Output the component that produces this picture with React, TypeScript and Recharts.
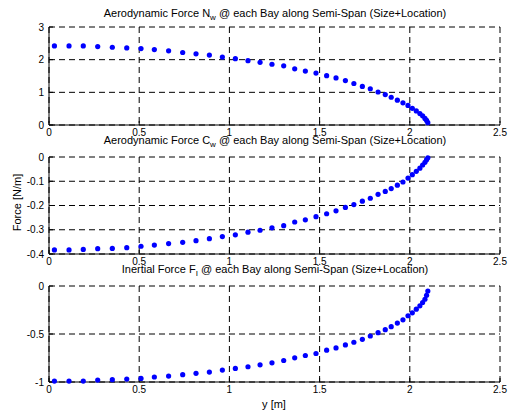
import React from 'react';
import { ScatterChart, Scatter, XAxis, YAxis, CartesianGrid } from 'recharts';

const spanPositions = [
  0.03, 0.111, 0.19, 0.27, 0.351, 0.431, 0.51, 0.584, 0.663, 0.741,
  0.815, 0.889, 0.961, 1.033, 1.103, 1.17, 1.236, 1.301, 1.362, 1.421,
  1.48, 1.539, 1.591, 1.643, 1.69, 1.737, 1.781, 1.824, 1.864, 1.897,
  1.931, 1.962, 1.99, 2.014, 2.036, 2.056, 2.071, 2.084, 2.093, 2.1,
];

const normalForce = [
  2.42, 2.42, 2.42, 2.4, 2.38, 2.36, 2.34, 2.31, 2.27, 2.22,
  2.18, 2.14, 2.08, 2.03, 1.97, 1.92, 1.86, 1.81, 1.72, 1.65,
  1.59, 1.51, 1.44, 1.36, 1.27, 1.18, 1.11, 1.01, 0.93, 0.85,
  0.76, 0.68, 0.6, 0.51, 0.43, 0.35, 0.28, 0.2, 0.14, 0.07,
];

const chordForce = [
  -0.383, -0.383, -0.381, -0.378, -0.377, -0.374, -0.368, -0.363, -0.357, -0.352,
  -0.345, -0.337, -0.328, -0.321, -0.31, -0.302, -0.292, -0.283, -0.268, -0.259,
  -0.246, -0.234, -0.222, -0.208, -0.196, -0.182, -0.17, -0.154, -0.142, -0.13,
  -0.116, -0.103, -0.087, -0.073, -0.059, -0.046, -0.033, -0.022, -0.011, -0.003,
];

const inertialForce = [
  -0.99, -0.99, -0.99, -0.98, -0.976, -0.97, -0.963, -0.948, -0.938, -0.924,
  -0.91, -0.897, -0.876, -0.859, -0.841, -0.821, -0.8, -0.776, -0.748, -0.724,
  -0.703, -0.669, -0.645, -0.614, -0.586, -0.555, -0.521, -0.486, -0.455, -0.424,
  -0.386, -0.352, -0.31, -0.279, -0.241, -0.207, -0.172, -0.138, -0.097, -0.052,
];

const xTicks = [0, 0.5, 1, 1.5, 2, 2.5];
const normalTicks = [0, 1, 2, 3];
const chordTicks = [-0.4, -0.3, -0.2, -0.1, 0];
const inertialTicks = [-1, -0.5, 0];

const FONT = '"Liberation Sans", Arial, Helvetica, sans-serif';
const tickStyle = { fontSize: 10, fill: '#000', fontFamily: FONT };

const Dot = (props: any) => {
  const { cx, cy } = props;
  if (cx == null || cy == null) return null;
  return <circle cx={cx} cy={cy} r={2.6} fill="#0000ff" />;
};

function Panel({ top, height, values, yTicks }: { top: number; height: number; values: number[]; yTicks: number[] }) {
  const data = spanPositions.map((y, i) => ({ y, f: values[i] }));
  const yDomain = [yTicks[0], yTicks[yTicks.length - 1]];
  return (
    <div style={{ position: 'absolute', left: 0, top }}>
      <ScatterChart width={510} height={height} margin={{ top: 27, right: 10, bottom: 0, left: 0 }}>
        <CartesianGrid stroke="#000" strokeDasharray="6 4" strokeWidth={1} />
        <XAxis
          dataKey="y"
          type="number"
          domain={[0, 2.5]}
          ticks={xTicks}
          interval={0}
          height={20}
          tick={tickStyle}
          tickSize={-4}
          tickMargin={8}
          axisLine={{ stroke: '#000' }}
          tickLine={{ stroke: '#000' }}
        />
        <YAxis
          dataKey="f"
          type="number"
          domain={yDomain}
          ticks={yTicks}
          interval={0}
          width={49}
          tick={tickStyle}
          tickSize={-4}
          tickMargin={9}
          axisLine={{ stroke: '#000' }}
          tickLine={{ stroke: '#000' }}
        />
        <XAxis
          xAxisId="top"
          orientation="top"
          type="number"
          domain={[0, 2.5]}
          ticks={xTicks}
          interval={0}
          height={0}
          tickFormatter={() => ''}
          tickSize={-4}
          axisLine={{ stroke: '#000' }}
          tickLine={{ stroke: '#000' }}
        />
        <YAxis
          yAxisId="right"
          orientation="right"
          type="number"
          domain={yDomain}
          ticks={yTicks}
          interval={0}
          width={0}
          tickFormatter={() => ''}
          tickSize={-4}
          axisLine={{ stroke: '#000' }}
          tickLine={{ stroke: '#000' }}
        />
        <Scatter data={data} shape={<Dot />} isAnimationActive={false} />
      </ScatterChart>
    </div>
  );
}

export default function App() {
  return (
    <div style={{ position: 'absolute', left: 0, top: 0, width: 510, height: 415, background: '#fff' }}>
      <Panel top={0} height={145} values={normalForce} yTicks={normalTicks} />
      <Panel top={130} height={144} values={chordForce} yTicks={chordTicks} />
      <Panel top={259} height={143} values={inertialForce} yTicks={inertialTicks} />
      <svg
        width={510}
        height={415}
        style={{ position: 'absolute', left: 0, top: 0, pointerEvents: 'none' }}
        fontFamily={FONT}
        fontSize={11}
      >
        <text x={275} y={17} textAnchor="middle" fill="#000">
          Aerodynamic Force N
          <tspan fontSize={8} dy={3}>w</tspan>
          <tspan dy={-3}> @ each Bay along Semi-Span (Size+Location)</tspan>
        </text>
        <text x={275} y={143.5} textAnchor="middle" fill="#000">
          Aerodynamic Force C
          <tspan fontSize={8} dy={3}>w</tspan>
          <tspan dy={-3}> @ each Bay along Semi-Span (Size+Location)</tspan>
        </text>
        <text x={275} y={273} textAnchor="middle" fill="#000">
          Inertial Force F
          <tspan fontSize={8} dy={3}>I</tspan>
          <tspan dy={-3}> @ each Bay along Semi-Span (Size+Location)</tspan>
        </text>
        <text x={274} y={408} textAnchor="middle" fill="#000">y [m]</text>
        <text x={20.5} y={202.5} textAnchor="middle" fill="#000" transform="rotate(-90 20.5 202.5)">Force [N/m]</text>
      </svg>
    </div>
  );
}
